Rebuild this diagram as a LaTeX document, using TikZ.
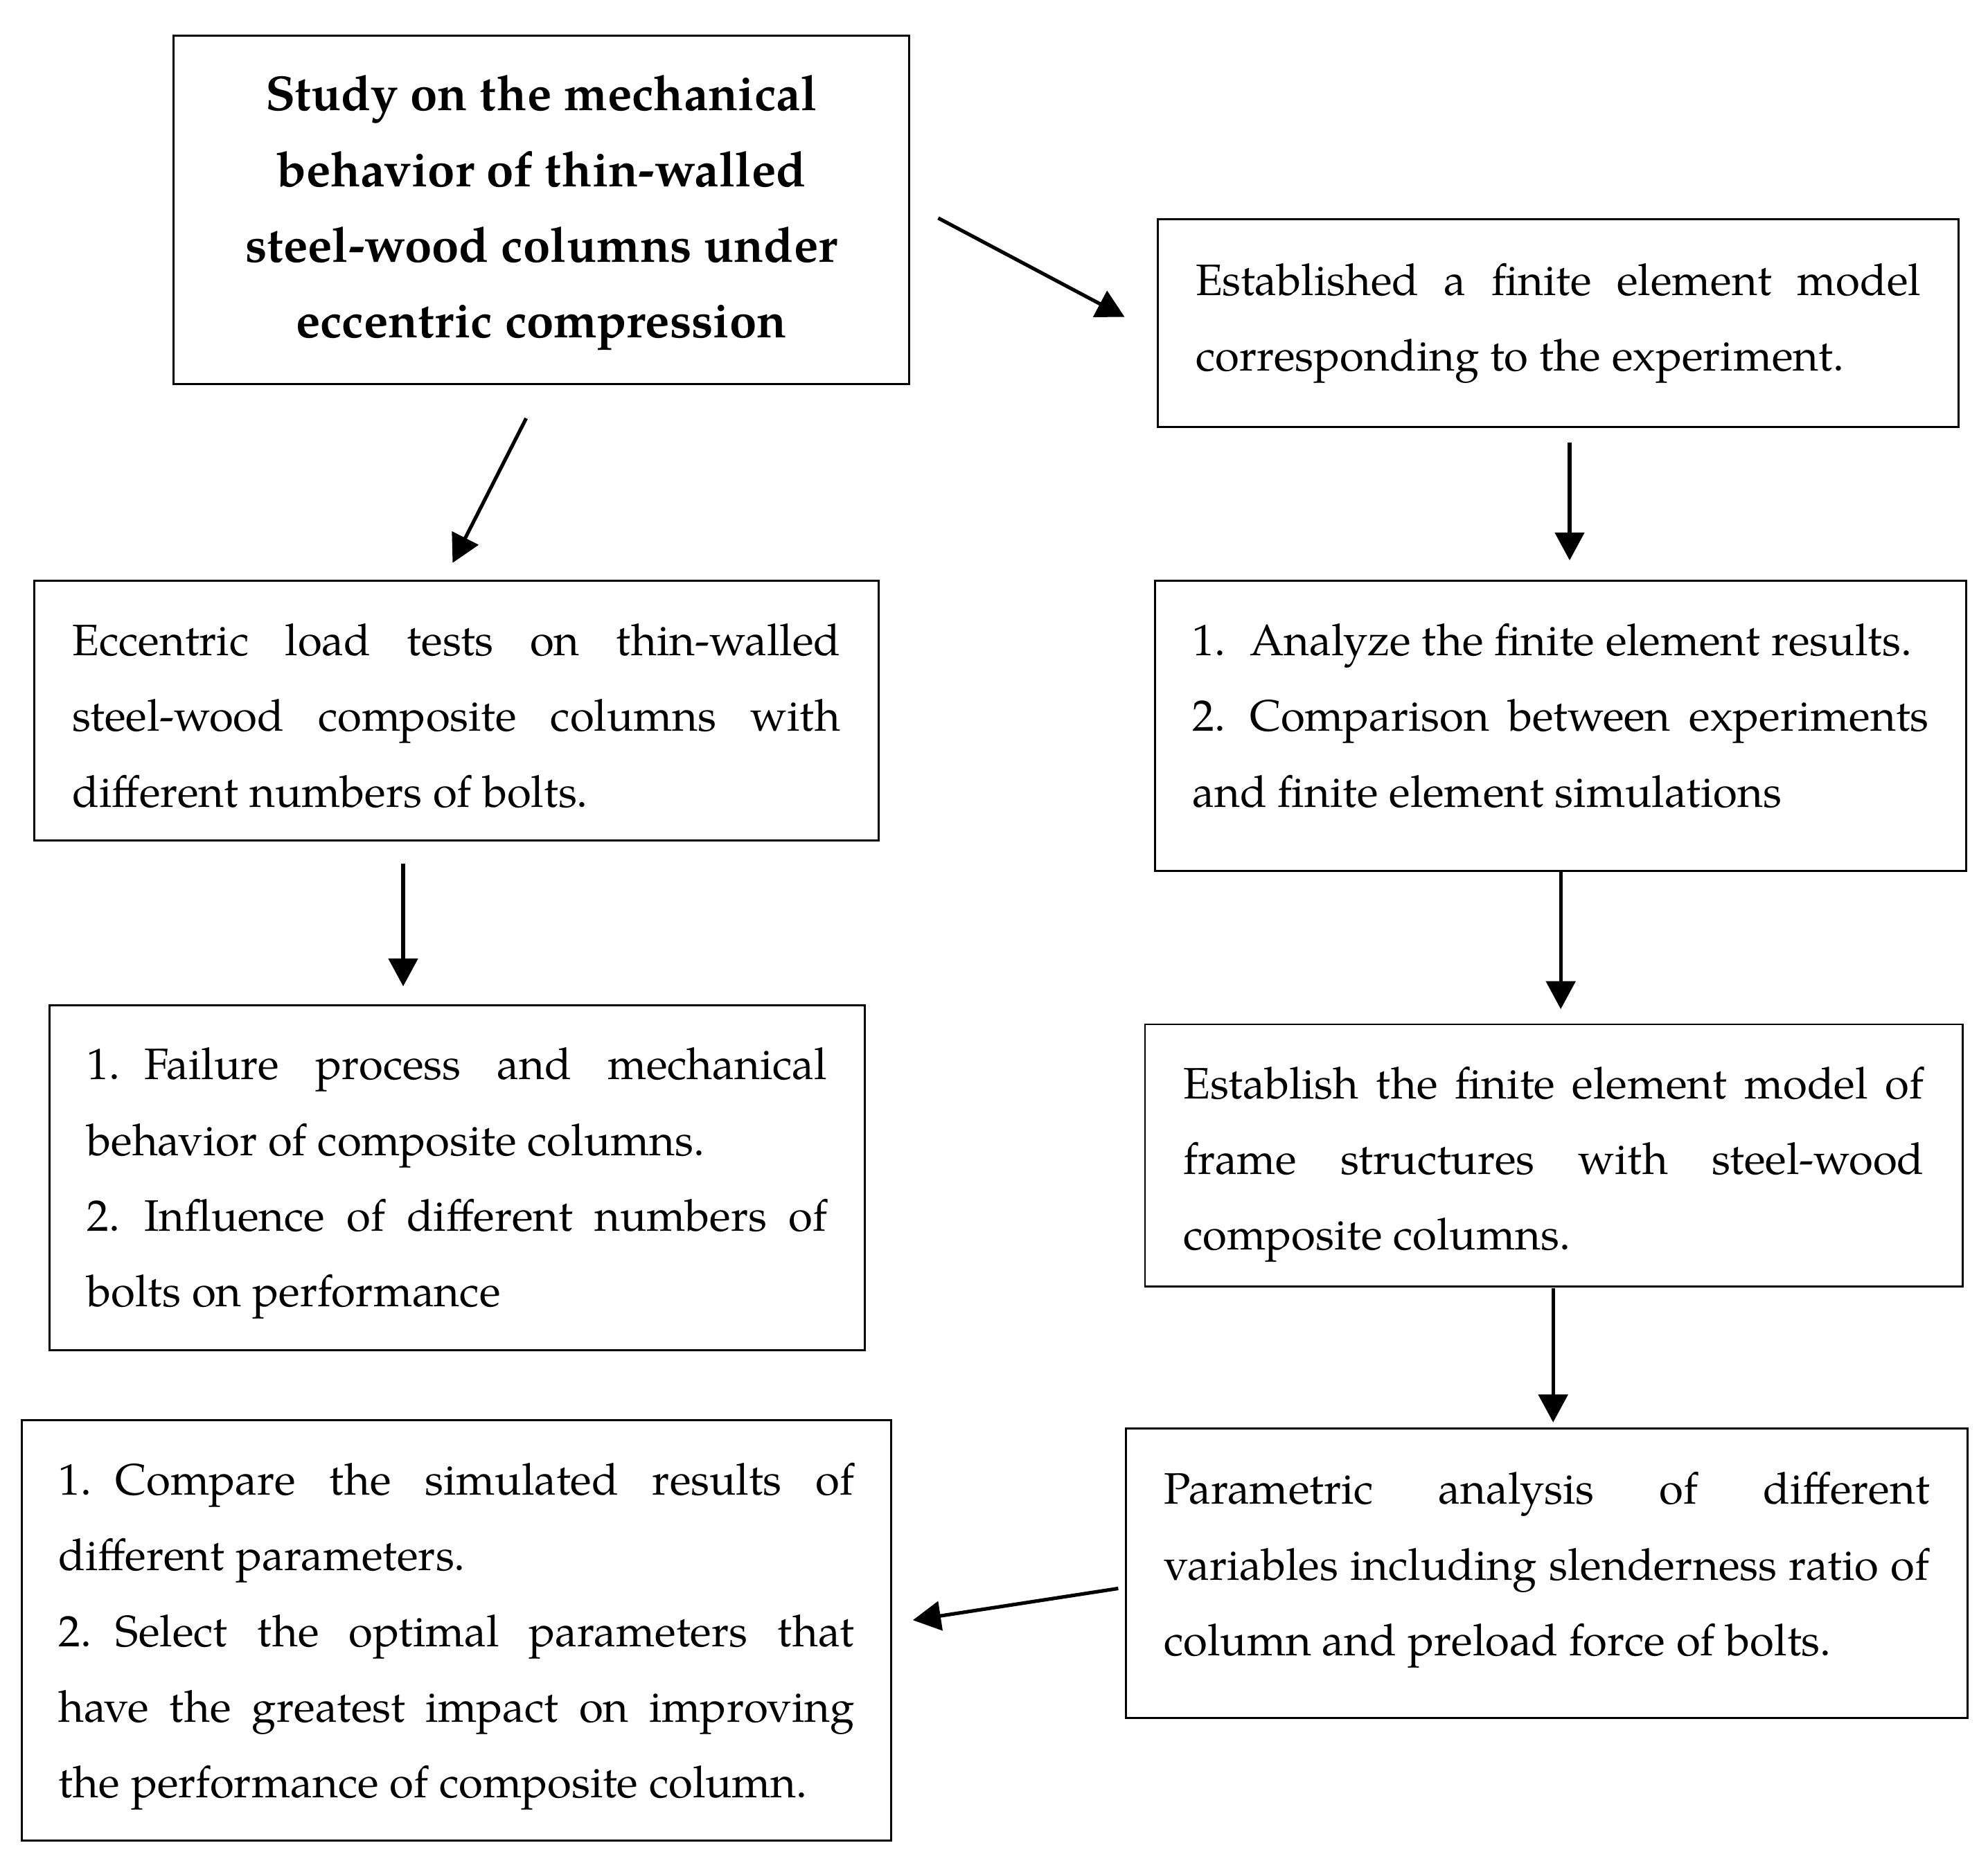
\documentclass[tikz,border=0pt]{standalone}
\usepackage{fontspec}
\IfFontExistsTF{TeX Gyre Pagella}{\setmainfont{TeX Gyre Pagella}}{\setmainfont{Liberation Serif}}
\usetikzlibrary{arrows.meta}
\newcommand{\itm}[1]{#1.\hspace{0.55em}}
\begin{document}
\begin{tikzpicture}[x=0.02cm,y=-0.02cm,
  frame/.style={draw,line width=0.9pt,inner sep=0pt},
  txt/.style={inner sep=0pt,align=justify,font=\fontsize{19.75}{34}\selectfont},
  ttl/.style={inner sep=0pt,align=center,font=\fontsize{22}{34}\selectfont\bfseries},
  arr/.style={line width=1.6pt,-{Triangle[length=0.44cm,width=0.46cm]}}]
\useasboundingbox (0,0) rectangle (1568,1468);

% frames
\node[frame,minimum width=11.6cm,minimum height=5.5cm]   (title)   at (427,165.5) {};
\node[frame,minimum width=12.64cm,minimum height=3.28cm] (fem)     at (1229,255) {};
\node[frame,minimum width=13.32cm,minimum height=4.1cm]  (test)    at (360,560.5) {};
\node[frame,minimum width=12.8cm,minimum height=4.58cm]  (analyze) at (1231,572.5) {};
\node[frame,minimum width=12.86cm,minimum height=5.44cm] (failure) at (360.5,929) {};
\node[frame,minimum width=12.9cm,minimum height=4.14cm]  (frame)   at (1225.5,911.5) {};
\node[frame,minimum width=13.72cm,minimum height=6.64cm] (compare) at (360,1286) {};
\node[frame,minimum width=13.28cm,minimum height=4.56cm] (param)   at (1220,1241) {};

% texts
\node[ttl] (titleT) at (427,168)
  {Study on the mechanical\\ behavior of thin-walled\\ steel-wood columns under\\ eccentric compression};

\node[txt,text width=11.44cm] (femT) at (1229,255)
  {Established a finite element model\linebreak corresponding to the experiment.};

\node[txt,text width=12.12cm] (testT) at (360,564.5)
  {Eccentric load tests on thin-walled\linebreak steel-wood composite columns with\linebreak different numbers of bolts.};

\node[txt,text width=11.62cm] (analyzeT) at (1231,564.5)
  {\itm{1}Analyze the finite element results.\\ \itm{2}Comparison between experiments\linebreak and finite element simulations};

\node[txt,text width=11.68cm] (failureT) at (360.5,933.5)
  {\itm{1}Failure process and mechanical\linebreak behavior of composite columns.\\ \itm{2}Influence of different numbers of\linebreak bolts on performance};

\node[txt,text width=11.68cm] (frameT) at (1225.5,918.5)
  {Establish the finite element model of\linebreak frame structures with steel-wood\linebreak composite columns.};

\node[txt,text width=12.56cm] (compareT) at (360,1291)
  {\itm{1}Compare the simulated results of\linebreak different parameters.\\ \itm{2}Select the optimal parameters that\linebreak have the greatest impact on improving\linebreak the performance of composite column.};

\node[txt,text width=12.08cm] (paramT) at (1220,1238.5)
  {Parametric analysis of different\linebreak variables including slenderness ratio of\linebreak column and preload force of bolts.};

% connectors
\coordinate (a1s) at (740,172);  \coordinate (a1e) at (887,250);
\coordinate (a2s) at (415,330);  \coordinate (a2e) at (357,444);
\coordinate (a3s) at (1238,349); \coordinate (a3e) at (1238,442);
\coordinate (a4s) at (318,681);  \coordinate (a4e) at (318,778);
\coordinate (a5s) at (1231,688); \coordinate (a5e) at (1231,796);
\coordinate (a6s) at (1225,1016);\coordinate (a6e) at (1225,1122);
\coordinate (a7s) at (882,1253); \coordinate (a7e) at (720,1278);

\draw[arr] (a1s) -- (a1e);
\draw[arr] (a2s) -- (a2e);
\draw[arr] (a3s) -- (a3e);
\draw[arr] (a4s) -- (a4e);
\draw[arr] (a5s) -- (a5e);
\draw[arr] (a6s) -- (a6e);
\draw[arr] (a7s) -- (a7e);
\end{tikzpicture}
\end{document}
